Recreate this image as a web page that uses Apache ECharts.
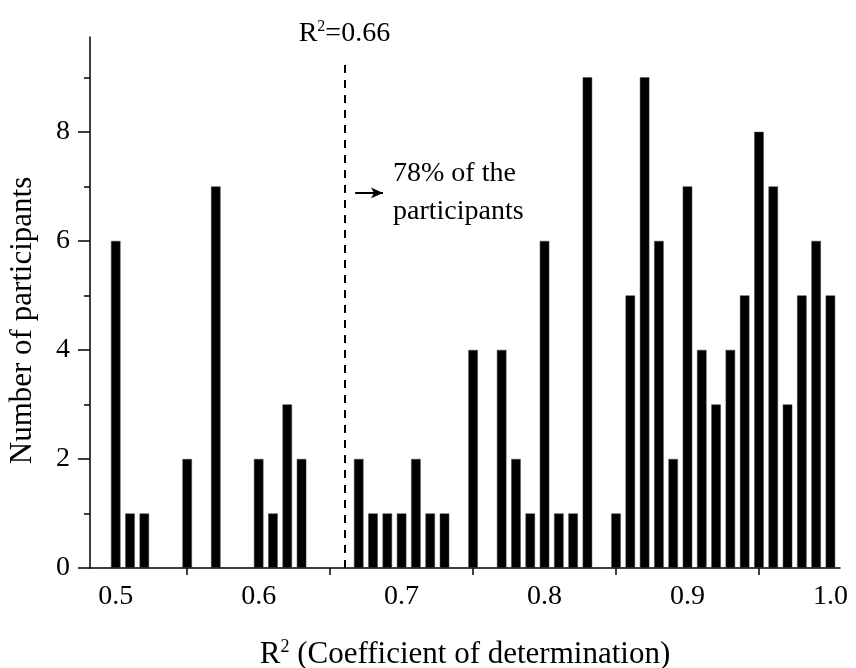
<!DOCTYPE html>
<html>
<head>
<meta charset="utf-8">
<script src="https://cdn.jsdelivr.net/npm/echarts@6/dist/echarts.min.js"></script>
<style>
  html, body { margin: 0; padding: 0; background: #fff; }
  #chart { width: 856px; height: 668px; }
</style>
</head>
<body>
<div id="chart"></div>
<script>
// R² bins (bin centres, step 0.01) and how many participants fall in each
const r2Bins = [
  0.50, 0.51, 0.52, 0.55, 0.57, 0.60, 0.61, 0.62, 0.63,
  0.67, 0.68, 0.69, 0.70, 0.71, 0.72, 0.73, 0.75, 0.77, 0.78, 0.79,
  0.80, 0.81, 0.82, 0.83, 0.85, 0.86, 0.87, 0.88, 0.89, 0.90,
  0.91, 0.92, 0.93, 0.94, 0.95, 0.96, 0.97, 0.98, 0.99, 1.00
];
const participantCounts = [
  6, 1, 1, 2, 7, 2, 1, 3, 2,
  2, 1, 1, 1, 2, 1, 1, 4, 4, 2, 1,
  6, 1, 1, 9, 1, 5, 9, 6, 2, 7,
  4, 3, 4, 5, 8, 7, 3, 5, 6, 5
];

// axis labels and tick marks
const xLabelValues = [0.5, 0.6, 0.7, 0.8, 0.9, 1.0];
const xTickValues = [0.55, 0.65, 0.75, 0.85, 0.95];
const yLabelValues = [0, 2, 4, 6, 8];
const yMinorTickValues = [1, 3, 5, 7, 9];

// threshold and annotation
const threshold = 0.66;
const thresholdLineTop = 9.27;
const arrowFrom = [0.6675, 6.88];
const arrowTo = [0.687, 6.88];
const thresholdText = 'R{sup|2}=0.66';
const shareText = '78% of the\nparticipants';

const FONT = '"Liberation Serif", "Times New Roman", serif';
const INK = '#000';

const chart = echarts.init(document.getElementById('chart'), null, { renderer: 'canvas' });

const axisLine = { show: true, lineStyle: { color: INK, width: 1.5 } };
const supStyle = { fontFamily: FONT, fontSize: 16, color: INK, verticalAlign: 'top', padding: [0, 0, 14, 0] };
const hidden = { color: 'rgba(0,0,0,0)', width: 0, type: 'solid' };

chart.setOption({
  animation: false,
  backgroundColor: '#fff',
  grid: { left: 90, right: 16, top: 37, bottom: 100, containLabel: false, outerBoundsMode: 'none' },
  xAxis: [{
    type: 'value',
    min: 0.482,
    max: 1.0067,
    axisLine: axisLine,
    splitLine: { show: false },
    axisTick: {
      show: true, length: 7, inside: false,
      customValues: xTickValues,
      lineStyle: { color: INK, width: 1.5 }
    },
    axisLabel: {
      customValues: xLabelValues,
      formatter: v => v.toFixed(1),
      fontFamily: FONT, fontSize: 28, color: INK, margin: 15
    },
    name: 'R{sup|2} (Coefficient of determination)',
    nameLocation: 'middle',
    nameGap: 70,
    nameTextStyle: {
      fontFamily: FONT, fontSize: 31, color: INK,
      rich: { sup: { fontFamily: FONT, fontSize: 18, color: INK, verticalAlign: 'top', padding: [0, 0, 16, 0] } }
    }
  }],
  yAxis: [{
    type: 'value',
    min: 0,
    max: 9.74,
    axisLine: axisLine,
    splitLine: { show: false },
    axisTick: {
      show: true, length: 12, inside: false,
      customValues: yLabelValues,
      lineStyle: { color: INK, width: 1.5 }
    },
    axisLabel: {
      customValues: yLabelValues,
      fontFamily: FONT, fontSize: 28, color: INK, margin: 20
    },
    name: 'Number of participants',
    nameLocation: 'middle',
    nameGap: 52,
    nameRotate: 90,
    nameTextStyle: { fontFamily: FONT, fontSize: 31, color: INK, padding: [0, 36, 0, 0] }
  }, {
    // minor ticks at odd counts
    type: 'value',
    position: 'left',
    min: 0,
    max: 9.74,
    axisLine: { show: false },
    splitLine: { show: false },
    axisLabel: { show: false },
    axisTick: {
      show: true, length: 6, inside: false,
      customValues: yMinorTickValues,
      lineStyle: { color: INK, width: 1.5 }
    }
  }],
  series: [{
    type: 'bar',
    barWidth: 9.5,
    itemStyle: { color: INK, borderColor: '#444', borderWidth: 0.5 },
    data: r2Bins.map((x, i) => [x, participantCounts[i]]),
    markLine: {
      silent: true,
      animation: false,
      symbol: 'none',
      data: [
        // threshold line
        [
          { coord: [threshold, 0], symbol: 'none',
            lineStyle: { type: [8, 7], width: 2, color: INK }, label: { show: false } },
          { coord: [threshold, thresholdLineTop], symbol: 'none',
            lineStyle: { type: [8, 7], width: 2, color: INK }, label: { show: false } }
        ],
        // arrow pointing to the right of the threshold
        [
          { coord: arrowFrom, symbol: 'none',
            lineStyle: { type: 'solid', width: 2, color: INK }, label: { show: false } },
          { coord: arrowTo, symbol: 'arrow', symbolSize: [8, 12],
            lineStyle: { type: 'solid', width: 2, color: INK }, label: { show: false } }
        ],
        // threshold caption above the line
        [
          { coord: [threshold, 0], lineStyle: hidden,
            label: { show: true, position: 'end', distance: 14, formatter: thresholdText,
              fontFamily: FONT, fontSize: 28, color: INK, rich: { sup: supStyle } } },
          { coord: [threshold, thresholdLineTop], lineStyle: hidden,
            label: { show: true, position: 'end', distance: 14, formatter: thresholdText,
              fontFamily: FONT, fontSize: 28, color: INK, rich: { sup: supStyle } } }
        ],
        // share of participants above the threshold
        [
          { coord: arrowFrom, lineStyle: hidden,
            label: { show: true, position: 'end', distance: 10, formatter: shareText,
              fontFamily: FONT, fontSize: 28, color: INK, lineHeight: 38, align: 'left' } },
          { coord: arrowTo, lineStyle: hidden,
            label: { show: true, position: 'end', distance: 10, formatter: shareText,
              fontFamily: FONT, fontSize: 28, color: INK, lineHeight: 38, align: 'left' } }
        ]
      ]
    }
  }]
});
</script>
</body>
</html>
